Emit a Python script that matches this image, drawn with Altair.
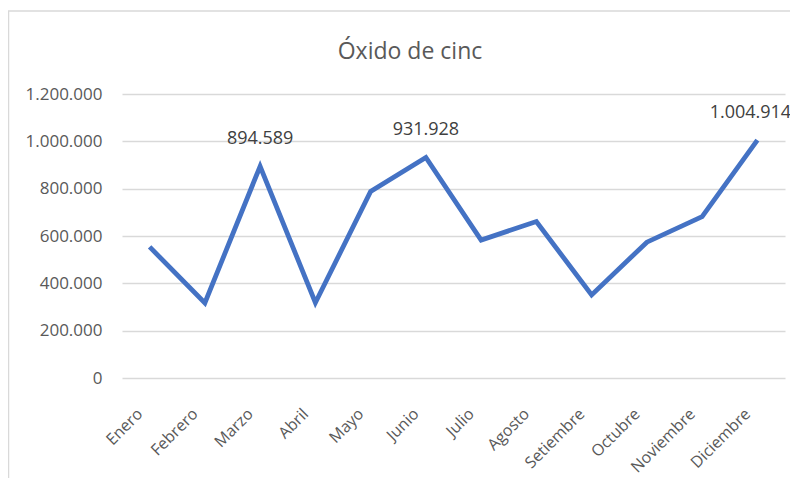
import altair as alt
import pandas as pd

title_text = "Óxido de cinc"
months = ["Enero", "Febrero", "Marzo", "Abril", "Mayo", "Junio", "Julio",
          "Agosto", "Setiembre", "Octubre", "Noviembre", "Diciembre"]
values = [554000, 317000, 894589, 318000, 788000, 931928, 583000,
          661000, 351000, 574000, 682000, 1004914]
labeled = ["Marzo", "Junio"]
labeled_edge = ["Diciembre"]
y_ticks = [0, 200000, 400000, 600000, 800000, 1000000, 1200000]

df = pd.DataFrame({"mes": months, "valor": values})
df["etiqueta"] = [m in labeled for m in months]
df["etiqueta_borde"] = [m in labeled_edge for m in months]

FONT = "Open Sans"
dot_fmt = "replace(format(datum.value, ','), /,/g, '.')"

x = alt.X("mes:N", sort=months, title=None,
          scale=alt.Scale(paddingInner=0, paddingOuter=0),
          axis=alt.Axis(labelAngle=-45, labelAlign="right", labelBaseline="middle",
                        labelPadding=33, labelOffset=-10, ticks=False, domain=False,
                        grid=False, labelFont=FONT, labelFontSize=16,
                        labelColor="#595959"))
y = alt.Y("valor:Q", title=None,
          scale=alt.Scale(domain=[0, 1200000], nice=False),
          axis=alt.Axis(values=y_ticks, labelExpr=dot_fmt, ticks=False, domain=False,
                        grid=True, gridColor="#D9D9D9", gridWidth=1.3,
                        labelPadding=20, labelFont=FONT, labelFontSize=17,
                        labelColor="#595959"))

base = alt.Chart(df)

border = base.mark_rect(fill=None, stroke="#D9D9D9", strokeWidth=1.5).encode(
    x=alt.value(-113.5), x2=alt.value(800), y=alt.value(-83), y2=alt.value(500)
).transform_filter("datum.mes == 'Enero'")

title = alt.Chart(pd.DataFrame({"t": [title_text]})).mark_text(
    font=FONT, fontSize=23, color="#595959", baseline="alphabetic", align="center"
).encode(x=alt.value(288), y=alt.value(-35), text="t:N")

line = base.mark_line(color="#4472C4", strokeWidth=4.8, strokeJoin="miter").encode(x=x, y=y)

lbl_calc = "replace(format(datum.valor, ','), /,/g, '.')"
text = base.transform_filter("datum.etiqueta").transform_calculate(
    txt=lbl_calc
).mark_text(dy=-27, font=FONT, fontSize=18, color="#404040").encode(
    x=alt.X("mes:N", sort=months), y="valor:Q", text="txt:N")

text_edge = base.transform_filter("datum.etiqueta_borde").transform_calculate(
    txt=lbl_calc
).mark_text(dy=-27, dx=-7, font=FONT, fontSize=18, color="#404040").encode(
    x=alt.X("mes:N", sort=months), y="valor:Q", text="txt:N")

chart = alt.layer(border, title, line, text, text_edge).properties(
    width=663, height=284,
    autosize=alt.AutoSizeParams(type="none"),
    padding={"left": 114, "top": 86, "right": 5, "bottom": 100},
).configure_view(stroke=None)

chart.save("out.html", embed_options={"renderer": "svg", "actions": False})
